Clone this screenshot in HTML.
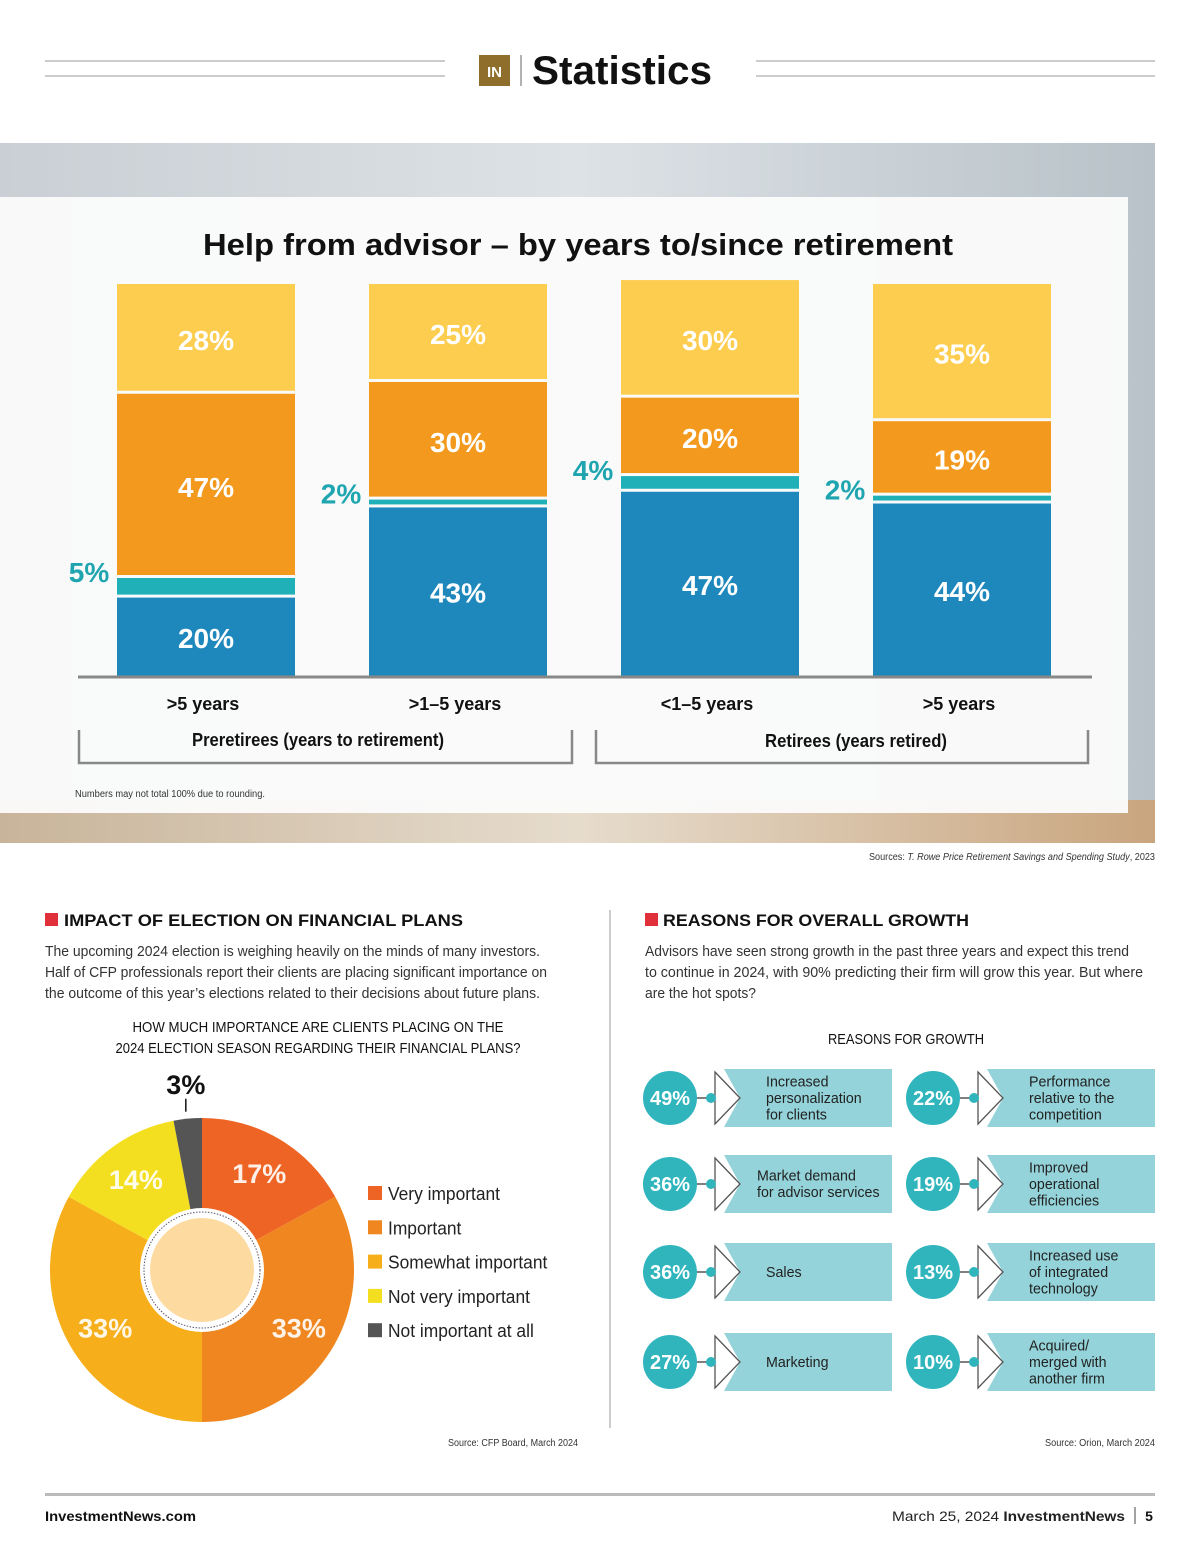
<!DOCTYPE html>
<html><head><meta charset="utf-8"><style>
html,body{margin:0;padding:0;background:#fff;}
svg{display:block;}
text{font-family:"Liberation Sans",sans-serif;}
.n{font-family:"Liberation Sans Narrow","Liberation Sans",sans-serif;}
</style></head><body>
<svg id="page" width="1200" height="1560" viewBox="0 0 1200 1560" xmlns="http://www.w3.org/2000/svg">
<defs>
<linearGradient id="bgG" x1="0" y1="0" x2="1" y2="0">
<stop offset="0" stop-color="#c9cfd4"/><stop offset="0.5" stop-color="#dde2e6"/><stop offset="1" stop-color="#b8c2c8"/></linearGradient>
<linearGradient id="deskG" x1="0" y1="0" x2="1" y2="0">
<stop offset="0" stop-color="#c8b49a"/><stop offset="0.5" stop-color="#e6dccd"/><stop offset="1" stop-color="#c9a57e"/></linearGradient>
</defs>
<g>
<line x1="45" y1="61" x2="445" y2="61" stroke="#999" stroke-width="1"/>
<line x1="45" y1="76" x2="445" y2="76" stroke="#999" stroke-width="1"/>
<line x1="756" y1="61" x2="1155" y2="61" stroke="#999" stroke-width="1"/>
<line x1="756" y1="76" x2="1155" y2="76" stroke="#999" stroke-width="1"/>
<rect x="479" y="55" width="31" height="31" fill="#8f6e2c"/>
<text x="494.5" y="77" font-size="15" font-weight="bold" fill="#fff" text-anchor="middle">IN</text>
<line x1="521" y1="55" x2="521" y2="86" stroke="#999" stroke-width="1.5"/>
<text x="532" y="84" font-size="40" font-weight="bold" fill="#111" textLength="180" lengthAdjust="spacingAndGlyphs">Statistics</text>
</g>
<rect x="0" y="143" width="1155" height="700" fill="url(#bgG)"/>
<rect x="0" y="800" width="1155" height="43" fill="url(#deskG)"/>
<rect x="0" y="197" width="1128" height="616" fill="#fbfbfb" opacity="0.96"/>
<text x="578" y="255" font-size="31" font-weight="bold" fill="#111" text-anchor="middle" textLength="750" lengthAdjust="spacingAndGlyphs">Help from advisor – by years to/since retirement</text>
<g id="bars"></g>
<line x1="78" y1="677" x2="1092" y2="677" stroke="#888" stroke-width="3"/>
<g id="xlabels"></g>
<g fill="none" stroke="#888" stroke-width="2.5">
<polyline points="79,730 79,763 572,763 572,730"/>
<polyline points="596,730 596,763 1088,763 1088,730"/>
</g>
<text x="318" y="746" font-size="18" font-weight="bold" text-anchor="middle" fill="#111" textLength="252" lengthAdjust="spacingAndGlyphs">Preretirees (years to retirement)</text>
<text x="856" y="747" font-size="18" font-weight="bold" text-anchor="middle" fill="#111" textLength="182" lengthAdjust="spacingAndGlyphs">Retirees (years retired)</text>
<text x="75" y="797" font-size="10" fill="#333" textLength="190" lengthAdjust="spacingAndGlyphs">Numbers may not total 100% due to rounding.</text>
<text x="1155" y="860" font-size="10" fill="#333" text-anchor="end" textLength="286" lengthAdjust="spacingAndGlyphs">Sources: <tspan font-style="italic">T. Rowe Price Retirement Savings and Spending Study</tspan>, 2023</text>

<rect x="45" y="913" width="13" height="13" fill="#e0303a"/>
<text x="64" y="926" font-size="17" font-weight="bold" fill="#111" textLength="399" lengthAdjust="spacingAndGlyphs">IMPACT OF ELECTION ON FINANCIAL PLANS</text>
<g font-size="15" fill="#333">
<text x="45" y="956" textLength="495" lengthAdjust="spacingAndGlyphs">The upcoming 2024 election is weighing heavily on the minds of many investors.</text>
<text x="45" y="977" textLength="502" lengthAdjust="spacingAndGlyphs">Half of CFP professionals report their clients are placing significant importance on</text>
<text x="45" y="998" textLength="495" lengthAdjust="spacingAndGlyphs">the outcome of this year’s elections related to their decisions about future plans.</text>
</g>
<text x="318" y="1032" font-size="14.5" fill="#111" text-anchor="middle" textLength="371" lengthAdjust="spacingAndGlyphs">HOW MUCH IMPORTANCE ARE CLIENTS PLACING ON THE</text>
<text x="318" y="1053" font-size="14.5" fill="#111" text-anchor="middle" textLength="405" lengthAdjust="spacingAndGlyphs">2024 ELECTION SEASON REGARDING THEIR FINANCIAL PLANS?</text>
<g id="pie"></g>
<g id="legend"></g>
<text x="578" y="1446" font-size="10" fill="#333" text-anchor="end" textLength="130" lengthAdjust="spacingAndGlyphs">Source: CFP Board, March 2024</text>
<line x1="610" y1="910" x2="610" y2="1428" stroke="#ccc" stroke-width="2"/>

<rect x="645" y="913" width="13" height="13" fill="#e0303a"/>
<text x="663" y="926" font-size="17" font-weight="bold" fill="#111" textLength="306" lengthAdjust="spacingAndGlyphs">REASONS FOR OVERALL GROWTH</text>
<g font-size="15" fill="#333">
<text x="645" y="956" textLength="484" lengthAdjust="spacingAndGlyphs">Advisors have seen strong growth in the past three years and expect this trend</text>
<text x="645" y="977" textLength="498" lengthAdjust="spacingAndGlyphs">to continue in 2024, with 90% predicting their firm will grow this year. But where</text>
<text x="645" y="998" textLength="111" lengthAdjust="spacingAndGlyphs">are the hot spots?</text>
</g>
<text x="906" y="1044" font-size="14.5" fill="#111" text-anchor="middle" textLength="156" lengthAdjust="spacingAndGlyphs">REASONS FOR GROWTH</text>
<g id="reasons"></g>
<text x="1155" y="1446" font-size="10" fill="#333" text-anchor="end" textLength="110" lengthAdjust="spacingAndGlyphs">Source: Orion, March 2024</text>

<rect x="45" y="1493" width="1110" height="3" fill="#bbb"/>
<text x="45" y="1521" font-size="14" font-weight="bold" fill="#111" textLength="151" lengthAdjust="spacingAndGlyphs">InvestmentNews.com</text>
<text x="1125" y="1521" font-size="14" fill="#222" text-anchor="end" textLength="233" lengthAdjust="spacingAndGlyphs">March 25, 2024 <tspan font-weight="bold">InvestmentNews</tspan></text>
<line x1="1135" y1="1507" x2="1135" y2="1524" stroke="#444" stroke-width="1"/>
<text x="1149" y="1521" font-size="14" font-weight="bold" fill="#111" text-anchor="middle">5</text>
</svg>
<script>
// ---- bar chart data ----
const barCategories = [">5 years", ">1–5 years", "<1–5 years", ">5 years"];
const seriesBlue = [20, 43, 47, 44];
const seriesTeal = [5, 2, 4, 2];
const seriesOrange = [47, 30, 20, 19];
const seriesYellow = [28, 25, 30, 35];
// ---- pie data ----
const pieCategories = ["Very important", "Important", "Somewhat important", "Not very important", "Not important at all"];
const pieValues = [17, 33, 33, 14, 3];
// ---- reasons data ----
const reasonLabels = [["Increased","personalization","for clients"],["Market demand","for advisor services"],["Sales"],["Marketing"],["Performance","relative to the","competition"],["Improved","operational","efficiencies"],["Increased use","of integrated","technology"],["Acquired/","merged with","another firm"]];
const reasonValues = [49, 36, 36, 27, 22, 19, 13, 10];

const NS = "http://www.w3.org/2000/svg";
function mk(tag, attrs, parent, txt){const e=document.createElementNS(NS,tag);for(const k in attrs)e.setAttribute(k,attrs[k]);if(txt!==undefined)e.textContent=txt;parent.appendChild(e);return e;}

const baseY = 676, pxPer = 3.92;
const yScale = v => baseY - v*pxPer;
const barW = 178;
const xBand = i => 117 + i*252;

const bars = document.getElementById('bars');
const xl = document.getElementById('xlabels');
const segDefs = [["blue",seriesBlue,"#1e87bc"],["teal",seriesTeal,"#1fb0b8"],["orange",seriesOrange,"#f39a1e"],["yellow",seriesYellow,"#fdcd50"]];
barCategories.forEach((c,i)=>{
  let cum = 0;
  const x = xBand(i);
  segDefs.forEach(([nm,arr,col],si)=>{
    const v = arr[i];
    const y0 = yScale(cum), y1 = yScale(cum+v);
    const gap = si===0?0:3;
    const r = mk('rect',{x:x,y:y1,width:barW,height:Math.max(0,y0-y1-gap),fill:col},bars);
    
    
    const mid = (y0+y1)/2;
    if(nm==="teal"){
      const t = mk('text',{x:x-28,y:y1+4,"font-size":28,"font-weight":"bold",fill:"#1fa5b0","text-anchor":"middle"},bars,v+"%");
      
      
    } else {
      const t = mk('text',{x:x+barW/2,y:mid+11,"font-size":28,"font-weight":"bold",fill:"#fff","text-anchor":"middle"},bars,v+"%");
      
      
    }
    cum += v;
  });
  const t = mk('text',{x:x+barW/2-3,y:710,"font-size":18,"font-weight":"bold",fill:"#111","text-anchor":"middle"},xl,c);
  
  
});

const pie = document.getElementById('pie');
const pieColors = ["#ee6424","#f0861f","#f6af1b","#f3df20","#555555"];
const cx=202, cy=1270, R=152;
const total = pieValues.reduce((a,b)=>a+b,0);
let ang = 0;
const pt = (a,r)=>[cx+r*Math.sin(a*2*Math.PI), cy-r*Math.cos(a*2*Math.PI)];
pieValues.forEach((v,i)=>{
  const a0 = ang/total, a1 = (ang+v)/total;
  const p0 = pt(a0,R), p1 = pt(a1,R);
  const large = (a1-a0)>0.5?1:0;
  const p = mk('path',{d:`M${cx},${cy} L${p0[0]},${p0[1]} A${R},${R} 0 ${large} 1 ${p1[0]},${p1[1]} Z`,fill:pieColors[i]},pie);
  
  
  const am = (a0+a1)/2;
  if(v>5){
    const lp = pt(am,R*0.74);
    const t = mk('text',{x:lp[0],y:lp[1]+10,"font-size":27,"font-weight":"bold",fill:"#fff","fill-opacity":0.9,"text-anchor":"middle"},pie,v+"%");
    
    
  } else {
    const q0 = pt(am,R+7), q1 = pt(am,R+20);
    mk('line',{x1:q1[0],y1:q0[1],x2:q1[0],y2:q1[1],stroke:"#111","stroke-width":1.5},pie);
    const t = mk('text',{x:q1[0],y:q1[1]-5,"font-size":27,"font-weight":"bold",fill:"#111","text-anchor":"middle"},pie,v+"%");
    
    
  }
  ang += v;
});
mk('circle',{cx:cx,cy:cy,r:62,fill:"#fff"},pie);
mk('circle',{cx:cx,cy:cy,r:58,fill:"none",stroke:"#556","stroke-width":1,"stroke-dasharray":"1.5 1.5"},pie);
const hole = mk('circle',{cx:cx,cy:cy,r:52,fill:"#fddba0"},pie);



const lg = document.getElementById('legend');
pieCategories.forEach((c,i)=>{
  const y = 1186 + i*34.3;
  const r = mk('rect',{x:368,y:y,width:14,height:14,fill:pieColors[i]},lg);
  
  
  const t = mk('text',{x:388,y:y+14,"font-size":18.5,fill:"#222",transform:`translate(388 0) scale(0.94 1) translate(-388 0)`},lg,c);
  
  
});

const rg = document.getElementById('reasons');
const rowY = [1098,1184,1272,1362];
reasonValues.forEach((v,i)=>{
  const col = i<4?0:1, row = i%4;
  const ox = col===0?670:933;
  const boxR = col===0?892:1155;
  const y = rowY[row];
  const g = mk('g',{},rg);
  
  
  mk('path',{d:`M${ox+54},${y-29} L${boxR},${y-29} L${boxR},${y+29} L${ox+54},${y+29} L${ox+70},${y} Z`,fill:"#93d3d9"},g);
  mk('line',{x1:ox+27,y1:y,x2:ox+41,y2:y,stroke:"#555","stroke-width":1.5},g);
  mk('path',{d:`M${ox+45},${y-26} L${ox+70},${y} L${ox+45},${y+26} Z`,fill:"#fff",stroke:"#555","stroke-width":1.3},g);
  mk('circle',{cx:ox+41,cy:y,r:5,fill:"#30b5bd"},g);
  mk('circle',{cx:ox,cy:y,r:27,fill:"#30b5bd"},g);
  mk('text',{x:ox,y:y+7,"font-size":20,"font-weight":"bold",fill:"#fff","text-anchor":"middle"},g,v+"%");
  const lines = reasonLabels[i];
  const lx = lines.length===2 && col===0 ? ox+87 : ox+96;
  lines.forEach((s,k)=>{
    const ty = y + 5 + (k-(lines.length-1)/2)*16.5;
    mk('text',{x:lx,y:ty,"font-size":15,fill:"#222",transform:`translate(${lx} 0) scale(0.95 1) translate(${-lx} 0)`},g,s);
  });
});
</script>
</body></html>
